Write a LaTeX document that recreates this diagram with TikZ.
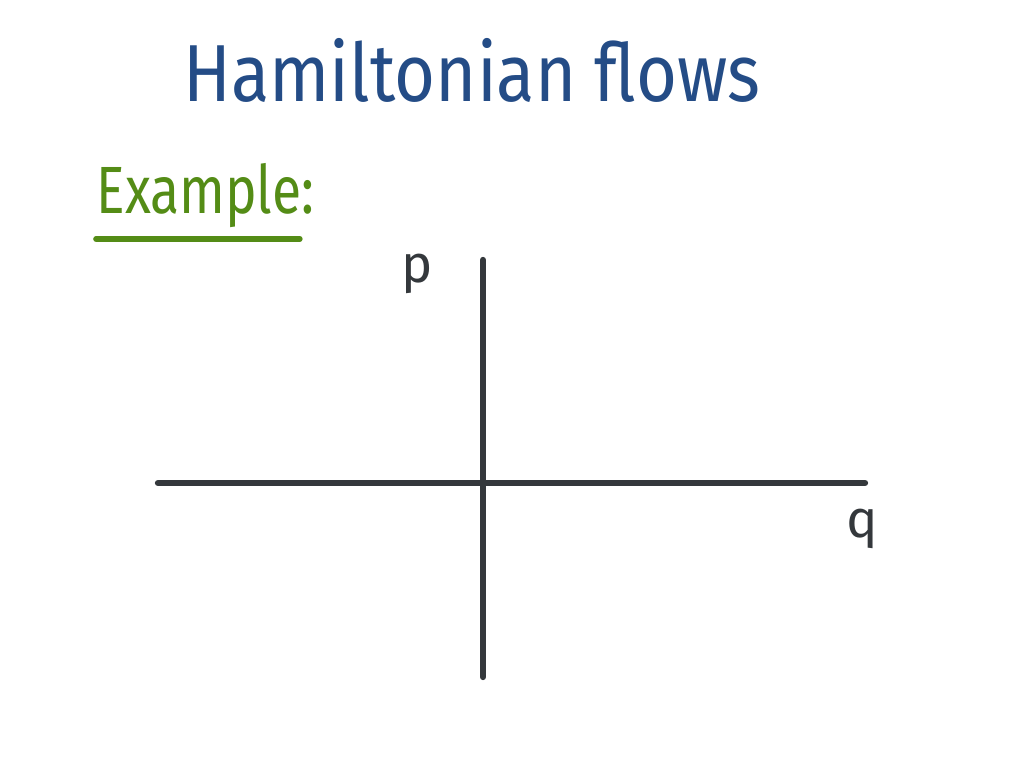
\documentclass[tikz,border=0pt]{standalone}
\usepackage{fontspec}
\setmainfont{Fira Sans}
\definecolor{titleblue}{RGB}{36,76,134}
\definecolor{examplegreen}{RGB}{84,140,22}
\definecolor{axisgray}{RGB}{52,56,60}
\tikzset{
  axis/.style={line width=1.8pt, draw=axisgray, line cap=round},
  axislabel/.style={font=\fontsize{15}{17}\selectfont, text=axisgray, inner sep=0pt}
}
\begin{document}
\begin{tikzpicture}[x=0.01cm, y=-0.01cm]
\useasboundingbox (0,0) rectangle (1024,768);
% heading
\node[font=\fontsize{23}{26}\selectfont, text=titleblue, inner sep=0pt, xscale=0.87] (title) at (472,70) {Hamiltonian flows};
\node[font=\fontsize{19}{22}\selectfont, text=examplegreen, inner sep=0pt, anchor=west, xscale=0.8] (example) at (96,196) {Example:};
\draw[line width=1.6pt, examplegreen, line cap=round] ([yshift=-0.1cm]example.south west) -- ([xshift=-0.15cm,yshift=-0.1cm]example.south east);
% axes
\coordinate (qmin) at (158,483);
\coordinate (qmax) at (865,483);
\coordinate (pmin) at (483,677);
\coordinate (pmax) at (483,260);
\draw[axis] (qmin) -- (qmax);
\draw[axis] (pmin) -- (pmax);
\node[axislabel] (plabel) at (417,274) {p};
\node[axislabel] (qlabel) at (862,529) {q};
\end{tikzpicture}
\end{document}
